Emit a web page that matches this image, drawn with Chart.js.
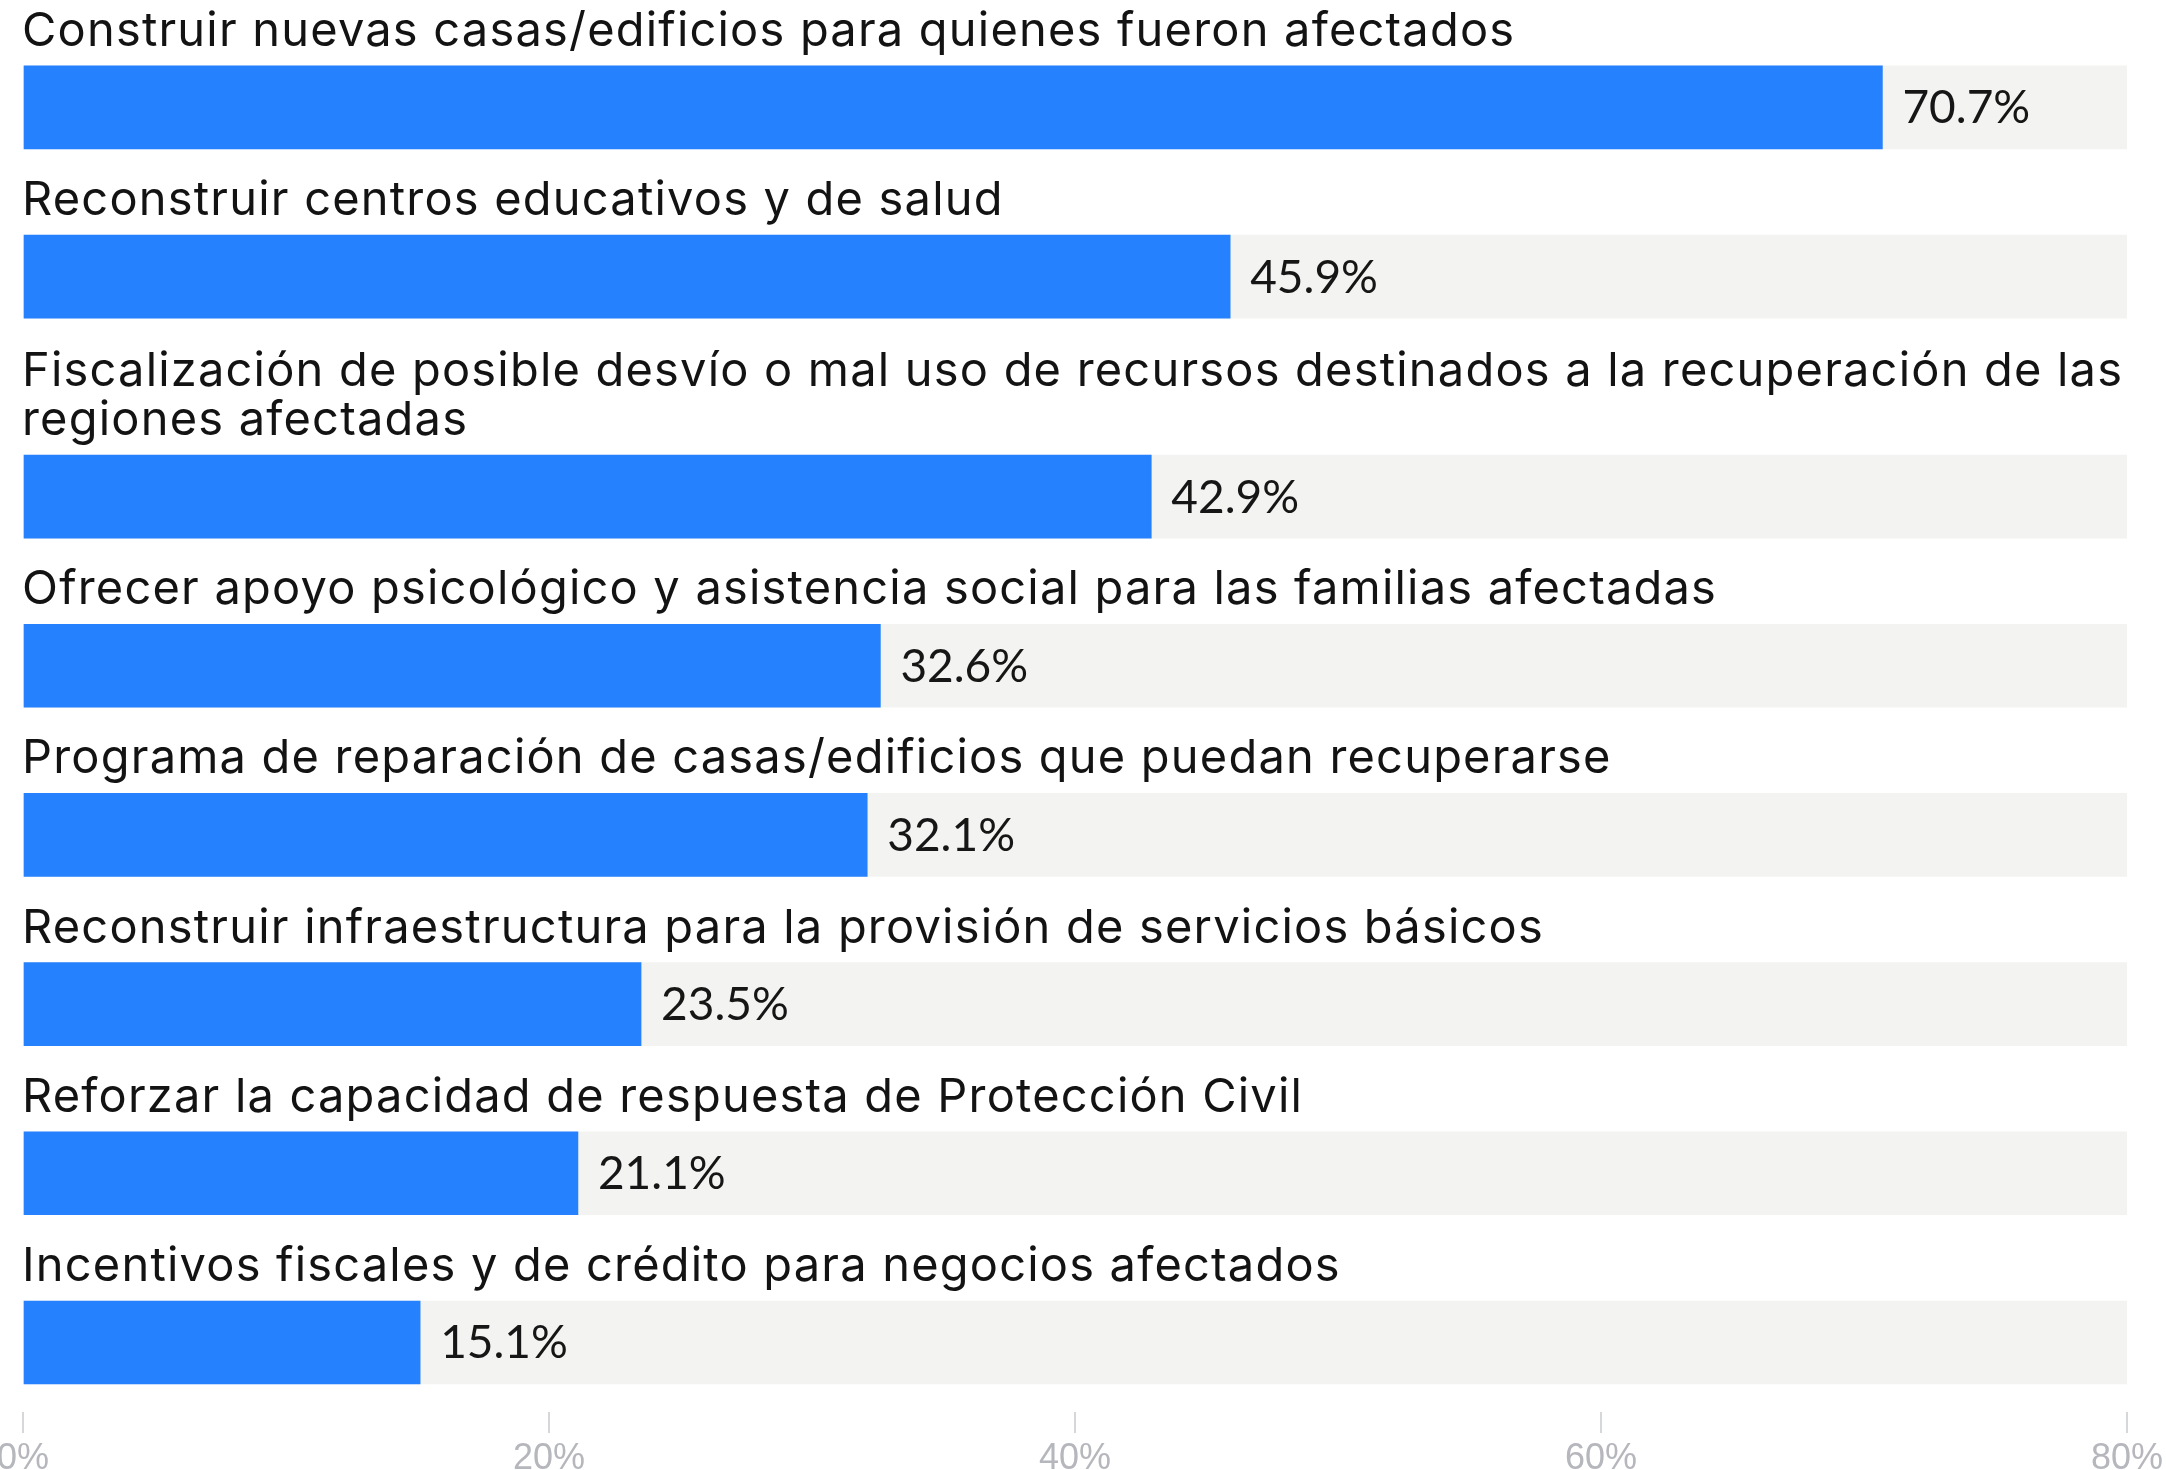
<!DOCTYPE html>
<html>
<head>
<meta charset="utf-8">
<script src="https://cdn.jsdelivr.net/npm/chart.js@4/dist/chart.umd.min.js"></script>
<style>
  html, body { margin: 0; padding: 0; background: #ffffff; }
  #wrap { width: 2166px; height: 1470px; }
</style>
</head>
<body>
<div id="wrap"><canvas id="c" width="2166" height="1470"></canvas></div>
<script>
// ---- data ----
const categories = [
  ["Construir nuevas casas/edificios para quienes fueron afectados"],
  ["Reconstruir centros educativos y de salud"],
  ["Fiscalización de posible desvío o mal uso de recursos destinados a la recuperación de las", "regiones afectadas"],
  ["Ofrecer apoyo psicológico y asistencia social para las familias afectadas"],
  ["Programa de reparación de casas/edificios que puedan recuperarse"],
  ["Reconstruir infraestructura para la provisión de servicios básicos"],
  ["Reforzar la capacidad de respuesta de Protección Civil"],
  ["Incentivos fiscales y de crédito para negocios afectados"]
];
const values = [70.7, 45.9, 42.9, 32.6, 32.1, 23.5, 21.1, 15.1];
const axisMax = 80;
const tickValues = [0, 20, 40, 60, 80];

// row positions: one slot per item plus extra room for each additional label line
const EXTRA_LINE = 0.3;
const rowPos = [];
{
  let extra = 0;
  categories.forEach((lines, i) => {
    extra += (lines.length - 1);
    rowPos.push(i + extra * EXTRA_LINE);
  });
}

const BLUE = '#2681FF';
const TRACK = '#F3F3F1';
const LABEL_FONT = '47px Inter, "Liberation Sans", sans-serif';
const VALUE_FONT = '46px Lato, "Open Sans", sans-serif';

const labelPlugin = {
  id: 'rowLabels',
  afterDatasetsDraw(chart) {
    const ctx = chart.ctx;
    const meta = chart.getDatasetMeta(0);
    ctx.save();
    meta.data.forEach((bar, i) => {
      const top = bar.y - bar.height / 2;
      const lines = categories[i];
      ctx.font = LABEL_FONT;
      ctx.fillStyle = '#131313';
      ctx.textAlign = 'left';
      ctx.textBaseline = 'alphabetic';
      if ('letterSpacing' in ctx) ctx.letterSpacing = '1.2px';
      const lh = 49;
      lines.forEach((ln, k) => {
        const baseline = top - 20 - (lines.length - 1 - k) * lh;
        ctx.fillText(ln, chart.chartArea.left - 1, baseline);
      });
      if ('letterSpacing' in ctx) ctx.letterSpacing = '0px';
      ctx.font = VALUE_FONT;
      ctx.fillStyle = '#161616';
      ctx.fillText(values[i].toFixed(1) + '%', bar.x + 20, bar.y + 16);
    });
    ctx.restore();
  }
};

new Chart(document.getElementById('c'), {
  type: 'bar',
  data: {
    datasets: [
      {
        label: 'Porcentaje',
        data: values.map((v, i) => ({ x: v, y: rowPos[i] })),
        backgroundColor: BLUE,
        barThickness: 83,
        grouped: false,
        order: 0,
        borderWidth: 0
      },
      {
        label: 'Fondo',
        data: values.map((v, i) => ({ x: axisMax, y: rowPos[i] })),
        backgroundColor: TRACK,
        barThickness: 83,
        grouped: false,
        order: 1,
        borderWidth: 0
      }
    ]
  },
  options: {
    indexAxis: 'y',
    responsive: false,
    animation: false,
    devicePixelRatio: 1,
    layout: { padding: { left: 23, right: 39, top: 0, bottom: 0 } },
    plugins: { legend: { display: false }, tooltip: { enabled: false } },
    scales: {
      y: {
        type: 'linear',
        reverse: true,
        display: false,
        offset: false,
        grid: { offset: false },
        min: -0.635,
        max: 7.711
      },
      x: {
        type: 'linear',
        min: 0,
        max: axisMax,
        position: 'bottom',
        offset: false,
        afterBuildTicks(scale) {
          scale.ticks = tickValues.map(v => ({ value: v }));
        },
        afterFit(scale) {
          scale.height = 58;
          scale.paddingLeft = 0;
          scale.paddingRight = 0;
        },
        border: { display: false },
        grid: {
          display: true,
          drawOnChartArea: false,
          drawTicks: true,
          tickLength: 21,
          color: '#D6D7DB',
          lineWidth: 2
        },
        ticks: {
          padding: 4,
          maxRotation: 0,
          autoSkip: false,
          color: '#B5B7BD',
          font: { family: '"Liberation Sans", Arial, sans-serif', size: 36 },
          callback: v => v + '%'
        }
      }
    }
  },
  plugins: [labelPlugin]
});
</script>
</body>
</html>
